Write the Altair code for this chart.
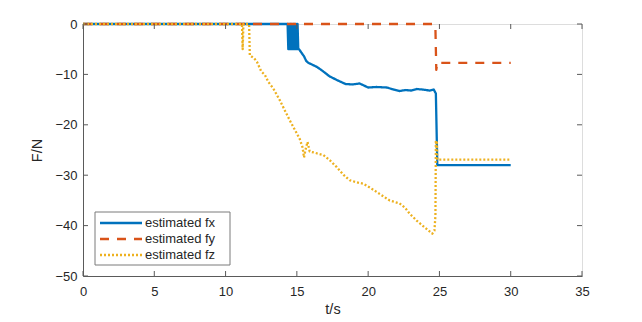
import altair as alt
import pandas as pd

# ---------------- data ----------------
series_names = ["estimated fx", "estimated fy", "estimated fz"]
series_colors = ["#0072BD", "#D95319", "#EDB120"]

fx_t = [0, 14.35, 14.40, 14.45, 14.50, 14.55, 14.60, 14.65, 14.70, 14.75, 14.80,
        14.85, 14.90, 14.95, 15.00, 15.05, 15.10, 15.15,
        15.2, 15.35, 15.5, 15.65, 15.8, 16.1, 16.4, 16.8, 17.3, 17.8, 18.4, 18.9,
        19.4, 19.7, 20.0, 20.6, 21.3, 21.8, 22.2, 22.6, 23.0, 23.4, 23.8, 24.3,
        24.6, 24.75, 24.85, 30.0]
fx_v = [0, 0, -5, 0, -5, 0, -5, 0, -5, 0, -5,
        0, -5, 0, -5, 0, -5, -5,
        -5.2, -5.8, -6.4, -7.3, -7.7, -8.1, -8.5, -9.3, -10.4, -11.1, -11.9, -12.0,
        -11.8, -12.2, -12.6, -12.5, -12.6, -13.0, -13.3, -13.1, -13.2, -12.9, -13.0, -13.2,
        -13.0, -13.8, -28.0, -28.0]

fy_t = [0, 24.6, 24.72, 24.78, 24.85, 30.0]
fy_v = [0, 0, -1.0, -9.1, -7.7, -7.7]

fz_t = [0, 11.15, 11.2, 11.25, 11.65, 11.7, 12.0, 12.2, 12.5, 12.76, 13.0, 13.35,
        13.8, 14.2, 14.5, 14.9, 15.2, 15.4, 15.5, 15.6, 15.75, 15.9, 16.2, 16.85,
        17.3, 17.8, 18.3, 18.7, 19.2, 19.66, 20.2, 20.8, 21.5, 22.2, 22.6, 22.9,
        23.4, 23.9, 24.5, 24.65, 24.72, 24.75, 24.8, 24.82, 24.85, 30.0]
fz_v = [0, 0, -5.0, 0, 0, -6.2, -6.8, -7.5, -9.4, -10.1, -11.5, -12.8,
        -15.1, -17.4, -19.1, -21.2, -22.8, -24.5, -26.5, -25.0, -23.4, -25.3, -25.5, -26.0,
        -27.0, -28.4, -30.0, -31.0, -31.4, -31.7, -32.6, -33.7, -35.0, -35.6, -36.5, -37.6,
        -39.0, -40.2, -41.6, -41.0, -38.0, -23.1, -24.8, -23.2, -26.9, -26.9]

x_ticks = [0, 5, 10, 15, 20, 25, 30, 35]
y_ticks = [0, -10, -20, -30, -40, -50]

# ---------------- build tables ----------------
rows = []
for name, ts, vs in zip(series_names, [fx_t, fy_t, fz_t], [fx_v, fy_v, fz_v]):
    for i, (t, v) in enumerate(zip(ts, vs)):
        rows.append({"t": t, "value": v, "series": name, "idx": i})
df = pd.DataFrame(rows)
xt_df = pd.DataFrame({"t": x_ticks})
yt_df = pd.DataFrame({"value": y_ticks})

FONT = "Liberation Sans"
AX = "#5a5a5a"
TXT = "#262626"
W, H = 499, 252

x_scale = alt.Scale(domain=[0, 35], nice=False, zero=False)
y_scale = alt.Scale(domain=[-50, 0], nice=False, zero=False)
dashes = [[1, 0], [9, 8], [2, 2]]

axis_style = dict(ticks=False, grid=False, format="d", labelFlush=False,
                  labelFont=FONT, titleFont=FONT, labelFontSize=13, titleFontSize=14.5,
                  labelColor=TXT, titleColor=TXT, titleFontWeight="normal",
                  domainColor=AX, domainWidth=1, labelOverlap=False)
x_axis = alt.Axis(values=x_ticks, title="t/s", labelPadding=9, titlePadding=4, **axis_style)
y_axis = alt.Axis(values=y_ticks, title="F/N", labelPadding=6, titlePadding=10, **axis_style)

lines = alt.Chart(df).mark_line(strokeWidth=2.3, strokeJoin="round", clip=False).encode(
    x=alt.X("t:Q", scale=x_scale, axis=x_axis),
    y=alt.Y("value:Q", scale=y_scale, axis=y_axis),
    color=alt.Color("series:N", scale=alt.Scale(domain=series_names, range=series_colors), legend=None),
    strokeDash=alt.StrokeDash("series:N", scale=alt.Scale(domain=series_names, range=dashes), legend=None),
    order="idx:Q",
)

tick_len = 5
bottom_ticks = alt.Chart(xt_df).mark_rule(color=AX, strokeWidth=1).encode(
    x=alt.X("t:Q", scale=x_scale, axis=x_axis), y=alt.value(H), y2=alt.value(H - tick_len))
top_ticks = alt.Chart(xt_df).mark_rule(color=AX, strokeWidth=1).encode(
    x=alt.X("t:Q", scale=x_scale, axis=x_axis), y=alt.value(0), y2=alt.value(tick_len))
left_ticks = alt.Chart(yt_df).mark_rule(color=AX, strokeWidth=1).encode(
    y=alt.Y("value:Q", scale=y_scale, axis=y_axis), x=alt.value(0), x2=alt.value(tick_len))
right_ticks = alt.Chart(yt_df).mark_rule(color=AX, strokeWidth=1).encode(
    y=alt.Y("value:Q", scale=y_scale, axis=y_axis), x=alt.value(W), x2=alt.value(W - tick_len))

# ---------------- legend (MATLAB style box) ----------------
leg_box = alt.Chart(pd.DataFrame({"a": [0]})).mark_rect(
    fill="white", stroke="#7a7a7a", strokeWidth=1).encode(
    x=alt.value(12), x2=alt.value(147), y=alt.value(188), y2=alt.value(241))

leg_layers = [leg_box]
row_y = [199, 215, 231]
for name, col, dash, yy in zip(series_names, series_colors, dashes, row_y):
    leg_layers.append(
        alt.Chart(pd.DataFrame({"a": [0]})).mark_rule(color=col, strokeWidth=2.3, strokeDash=dash).encode(
            x=alt.value(17), x2=alt.value(59), y=alt.value(yy)))
    leg_layers.append(
        alt.Chart(pd.DataFrame({"a": [0]})).mark_text(
            align="left", baseline="middle", fontSize=13, font=FONT, color=TXT).encode(
            x=alt.value(62), y=alt.value(yy), text=alt.value(name)))

chart = alt.layer(
    lines, bottom_ticks, top_ticks, left_ticks, right_ticks, *leg_layers
).properties(
    width=W, height=H,
    autosize=alt.AutoSizeParams(type="none"),
    padding={"left": 75, "top": 16, "right": 40, "bottom": 45},
).configure_view(
    stroke=AX, strokeWidth=1
).configure(background="white")

chart.save("out.html", embed_options={"renderer": "svg", "actions": False})
